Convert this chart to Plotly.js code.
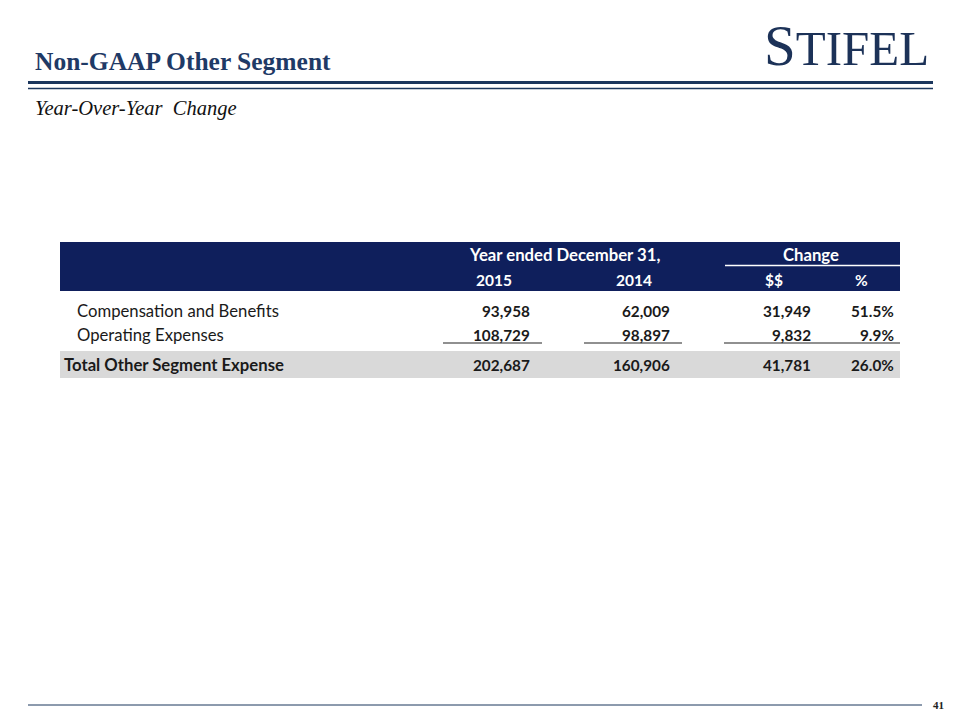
<!DOCTYPE html>
<html>
<head>
<meta charset="utf-8">
<script src="https://cdn.plot.ly/plotly-3.0.1.min.js"></script>
<style>html,body{margin:0;padding:0;background:#fff;}#chart{width:960px;height:720px;}</style>
</head>
<body>
<div id="chart"></div>
<script>
// ---- data ----
const rowLabels = ["Compensation and Benefits", "Operating Expenses", "Total Other Segment Expense"];
const val2015 = [93958, 108729, 202687];
const val2014 = [62009, 98897, 160906];
const changeDollar = [31949, 9832, 41781];
const changePct = [51.5, 9.9, 26.0];
const groupHeaders = ["Year ended December 31,", "Change"];
const columnHeaders = ["2015", "2014", "$$", "%"];
const pageTitle = "Non-GAAP Other Segment";
const pageSubtitle = "Year-Over-Year\u00a0 Change";
const pageNumber = "41";

// ---- layout constants ----
const NAVY = "#1B365D";
const BAND = "#0F1F5C";
const TXT = "#1A1A1A";
const FONT = "Lato, 'Open Sans', sans-serif";
const rowY = [310.5, 334.5, 365];
const colRight = [532, 672, 813, 896];
const colHeadX = [494, 634, 774, 861];
const fmt = v => v.toLocaleString("en-US");
const fmtPct = v => v.toFixed(1) + "%";

const columns = [val2015.map(fmt), val2014.map(fmt), changeDollar.map(fmt), changePct.map(fmtPct)];

const annotations = [];
columns.forEach((col, ci) => col.forEach((t, ri) => annotations.push({
  text: "<b>" + t + "</b>", x: colRight[ci], y: rowY[ri], xanchor: "right", yanchor: "middle",
  font: {family: FONT, size: 15.3, color: TXT}
})));

const shapes = [
  // header rules
  {type: "rect", layer: "below", xref: "x", yref: "y", x0: 28, x1: 933, y0: 81, y1: 84, fillcolor: NAVY, line: {width: 0}},
  {type: "line", layer: "below", xref: "x", yref: "y", x0: 28, x1: 933, y0: 88.5, y1: 88.5, line: {color: NAVY, width: 1.5}},
  // footer rule
  {type: "line", layer: "below", xref: "x", yref: "y", x0: 28, x1: 922, y0: 705, y1: 705, line: {color: NAVY, width: 1}},
  // table header band
  {type: "rect", layer: "below", xref: "x", yref: "y", x0: 60, x1: 900, y0: 242, y1: 291, fillcolor: BAND, line: {width: 0}},
  {type: "line", layer: "below", xref: "x", yref: "y", x0: 725, x1: 900, y0: 265.5, y1: 265.5, line: {color: "#FFFFFF", width: 1.5}},
  // total band
  {type: "rect", layer: "below", xref: "x", yref: "y", x0: 60, x1: 900, y0: 351, y1: 378, fillcolor: "#D9D9D9", line: {width: 0}},
  // underlines
  {type: "line", layer: "below", xref: "x", yref: "y", x0: 443, x1: 542, y0: 343, y1: 343, line: {color: "#222", width: 1.2}},
  {type: "line", layer: "below", xref: "x", yref: "y", x0: 584, x1: 682, y0: 343, y1: 343, line: {color: "#222", width: 1.2}},
  {type: "line", layer: "below", xref: "x", yref: "y", x0: 724, x1: 900, y0: 343, y1: 343, line: {color: "#222", width: 1.2}}
];

annotations.push(
  {text: "<b>" + pageTitle + "</b>", x: 33, y: 61, xanchor: "left", yanchor: "middle",
   font: {family: "'Liberation Serif', serif", size: 25.5, color: "#1F3A66"}},
  {text: "<i>" + pageSubtitle + "</i>", x: 33, y: 108, xanchor: "left", yanchor: "middle",
   font: {family: "'Liberation Serif', serif", size: 20.5, color: "#111"}},
  {text: "<span style='font-size:57px'>S</span>TIFEL", x: 931, y: 79, xanchor: "right", yanchor: "bottom",
   font: {family: "'Liberation Serif', serif", size: 49, color: "#1C3258"}},
  {text: "<b>" + pageNumber + "</b>", x: 946, y: 705, xanchor: "right", yanchor: "middle",
   font: {family: "'Liberation Serif', serif", size: 11, color: "#222"}},
  // group headers
  {text: "<b>" + groupHeaders[0] + "</b>", x: 564, y: 255, xanchor: "center", yanchor: "middle",
   font: {family: FONT, size: 16.7, color: "#FFFFFF"}},
  {text: "<b>" + groupHeaders[1] + "</b>", x: 811, y: 255, xanchor: "center", yanchor: "middle",
   font: {family: FONT, size: 16.7, color: "#FFFFFF"}}
);
columnHeaders.forEach((h, i) => annotations.push({
  text: "<b>" + h + "</b>", x: colHeadX[i], y: 280, xanchor: "center", yanchor: "middle",
  font: {family: FONT, size: 15.5, color: "#FFFFFF"}
}));
rowLabels.forEach((r, i) => annotations.push({
  text: i === 2 ? "<b>" + r + "</b>" : r, x: i === 2 ? 62 : 75, y: rowY[i], xanchor: "left", yanchor: "middle",
  font: {family: FONT, size: 16.7, color: TXT}
}));
annotations.forEach(a => { a.xref = "x"; a.yref = "y"; a.showarrow = false; });

// invisible trace to establish the axes
const traces = [{type: "scatter", mode: "markers", x: [0, 960], y: [0, 720],
  marker: {opacity: 0}, hoverinfo: "skip", showlegend: false}];

const layout = {
  width: 960, height: 720,
  margin: {l: 0, r: 0, t: 0, b: 0},
  paper_bgcolor: "#FFFFFF", plot_bgcolor: "#FFFFFF",
  xaxis: {range: [0, 960], visible: false, fixedrange: true},
  yaxis: {range: [720, 0], visible: false, fixedrange: true},
  shapes: shapes, annotations: annotations, showlegend: false
};

Plotly.newPlot("chart", traces, layout, {staticPlot: true, displayModeBar: false});
</script>
</body>
</html>
